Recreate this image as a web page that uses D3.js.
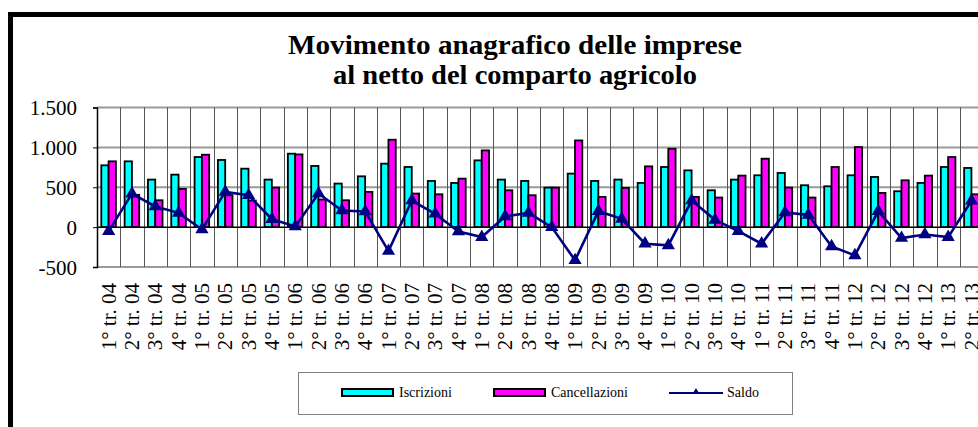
<!DOCTYPE html>
<html><head><meta charset="utf-8">
<script src="https://cdn.jsdelivr.net/npm/d3@7"></script>
<style>body{margin:0;background:#fff}svg{display:block}svg text{font-family:"Liberation Serif","DejaVu Serif",serif}</style>
</head><body>
<svg id="c" width="978" height="427"></svg>
<script>
const categories = ["1° tr. 04","2° tr. 04","3° tr. 04","4° tr. 04","1° tr. 05","2° tr. 05","3° tr. 05","4° tr. 05","1° tr. 06","2° tr. 06","3° tr. 06","4° tr. 06","1° tr. 07","2° tr. 07","3° tr. 07","4° tr. 07","1° tr. 08","2° tr. 08","3° tr. 08","4° tr. 08","1° tr. 09","2° tr. 09","3° tr. 09","4° tr. 09","1° tr. 10","2° tr. 10","3° tr. 10","4° tr. 10","1° tr. 11","2° tr. 11","3° tr. 11","4° tr. 11","1° tr. 12","2° tr. 12","3° tr. 12","4° tr. 12","1° tr. 13","2° tr. 13"];
const iscrizioni = [775,825,596,658,879,842,733,596,921,767,546,637,796,754,579,554,837,596,579,496,671,579,596,554,754,712,462,596,650,679,525,512,650,629,450,554,754,742];
const cancellazioni = [825,405,337,479,908,400,333,496,912,346,337,442,1096,421,412,608,962,462,400,496,1087,379,492,762,983,379,371,646,858,496,371,754,1004,429,587,646,879,412];
const saldo = [-50,420,259,179,-29,442,400,100,9,421,209,195,-300,333,167,-54,-125,134,179,0,-416,200,104,-208,-229,333,91,-50,-208,183,154,-242,-354,200,-137,-92,-125,330];
const yTicks = [-500,0,500,1000,1500];
const yTickLabels = ["-500","0","500","1.000","1.500"];
const titleLines = ["Movimento anagrafico delle imprese","al netto del comparto agricolo"];
const legendItems = ["Iscrizioni","Cancellazioni","Saldo"];

(function(){
const svg = d3.select("#c");

// outer frame
svg.append("rect").attr("x",10.5).attr("y",14.5).attr("width",1000).attr("height",500)
  .attr("fill","#fff").attr("stroke","#000").attr("stroke-width",5);

const pLeft = 97, catW = 23.32, pTop = 107.5, pBottom = 267;
const pRight = pLeft + catW*categories.length;
const x = d3.scaleBand().domain(categories).range([pLeft, pRight]).padding(0);
const y = d3.scaleLinear().domain([-500,1500]).range([pBottom, pTop]);

// title
const titleW = [454, 364];
svg.append("g").selectAll("text").data(titleLines).join("text")
  .attr("x",515).attr("y",(d,i)=>54+i*30).attr("text-anchor","middle")
  .attr("textLength",(d,i)=>titleW[i]).attr("lengthAdjust","spacingAndGlyphs")
  .style("font-weight","bold").style("font-size","27px").text(d=>d);

// horizontal grid
svg.append("g").selectAll("line").data(yTicks.filter(v=>v!==0)).join("line")
  .attr("x1",pLeft).attr("x2",pRight+2)
  .attr("y1",d=>y(d)).attr("y2",d=>y(d))
  .attr("stroke","#9a9a9a").attr("stroke-width",2);

// vertical grid
svg.append("g").selectAll("line").data(categories.slice(1)).join("line")
  .attr("x1",d=>Math.round(x(d))+0.5).attr("x2",d=>Math.round(x(d))+0.5)
  .attr("y1",y(1500)).attr("y2",y(-500))
  .attr("stroke","#555").attr("stroke-width",1);

// bars
const bw = 7.3;
const gBars = svg.append("g");
gBars.selectAll("rect.i").data(iscrizioni).join("rect").attr("class","i")
  .attr("x",(d,i)=>x(categories[i])+4.3).attr("width",bw)
  .attr("y",d=>y(Math.max(0,d))).attr("height",d=>Math.abs(y(d)-y(0)))
  .attr("fill","#00ffff").attr("stroke","#000").attr("stroke-width",1.8);
gBars.selectAll("rect.c").data(cancellazioni).join("rect").attr("class","c")
  .attr("x",(d,i)=>x(categories[i])+4.3+bw).attr("width",bw)
  .attr("y",d=>y(Math.max(0,d))).attr("height",d=>Math.abs(y(d)-y(0)))
  .attr("fill","#ff00ff").attr("stroke","#000").attr("stroke-width",1.8);

// zero line
svg.append("line").attr("x1",pLeft).attr("x2",pRight+2)
  .attr("y1",y(0)).attr("y2",y(0)).attr("stroke","#000").attr("stroke-width",1.5);

// y axis
const yAxis = d3.axisLeft(y).tickValues(yTicks).tickSize(4).tickFormat((d,i)=>yTickLabels[i]);
const gy = svg.append("g").attr("transform",`translate(${pLeft},0)`).call(yAxis)
  .attr("font-family",null).attr("font-size",null);
gy.select(".domain").attr("stroke","#000").attr("stroke-width",1.5);
gy.selectAll(".tick line").attr("stroke","#000");
gy.selectAll("text").style("font-size","21px").attr("fill","#000")
  .attr("x",-20).attr("dy","0.34em");

// saldo line
const cx = (i)=>x(categories[i])+x.bandwidth()/2;
svg.append("path").datum(saldo)
  .attr("d",d3.line().x((d,i)=>cx(i)).y(d=>y(d)))
  .attr("fill","none").attr("stroke","#000080").attr("stroke-width",2.6);
svg.append("g").selectAll("path").data(saldo).join("path")
  .attr("transform",(d,i)=>`translate(${cx(i)},${y(d)})`)
  .attr("d",d3.symbol(d3.symbolTriangle,75)).attr("fill","#000080");

// x labels
svg.append("g").selectAll("text").data(categories).join("text")
  .attr("transform",(d)=>`translate(${x(d)+x.bandwidth()/2},283) rotate(-90)`)
  .attr("text-anchor","end").attr("dy","0.34em")
  .style("font-size","21px").text(d=>d);

// legend
const lg = svg.append("g");
lg.append("rect").attr("x",298.5).attr("y",372.5).attr("width",494).attr("height",42)
  .attr("fill","#fff").attr("stroke","#808080").attr("stroke-width",1);
lg.append("rect").attr("x",342).attr("y",389).attr("width",51).attr("height",7)
  .attr("fill","#00ffff").attr("stroke","#000").attr("stroke-width",2);
lg.append("text").attr("x",399).attr("y",397).style("font-size","14px").text(legendItems[0]);
lg.append("rect").attr("x",494).attr("y",389).attr("width",51).attr("height",7)
  .attr("fill","#ff00ff").attr("stroke","#000").attr("stroke-width",2);
lg.append("text").attr("x",551).attr("y",397).style("font-size","14px").text(legendItems[1]);
lg.append("line").attr("x1",669).attr("x2",723).attr("y1",393).attr("y2",393)
  .attr("stroke","#000080").attr("stroke-width",2);
lg.append("path").attr("transform","translate(696,392)").attr("d",d3.symbol(d3.symbolTriangle,22)).attr("fill","#000080");
lg.append("text").attr("x",727).attr("y",397).style("font-size","14px").text(legendItems[2]);
})();
</script>
</body></html>
